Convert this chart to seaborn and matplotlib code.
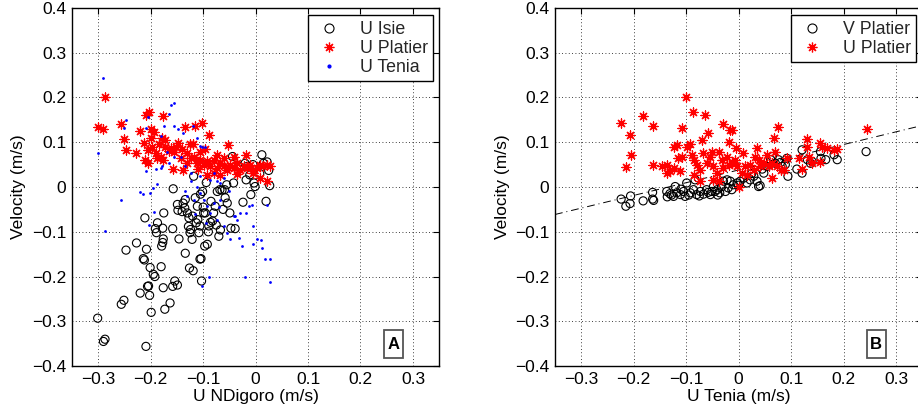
import numpy as np
import matplotlib
matplotlib.use("Agg")
import matplotlib.pyplot as plt
import seaborn as sns
from matplotlib.lines import Line2D
from matplotlib.patches import Rectangle

# ---------------- data ----------------
# Panel A: x = U NDigoro
isie_pts = [
    (-0.301, -0.293), (-0.290, -0.345), (-0.287, -0.340), (-0.209, -0.356),
    (-0.256, -0.262), (-0.251, -0.253), (-0.247, -0.141), (-0.227, -0.125),
    (-0.220, -0.237), (-0.214, -0.160), (-0.212, -0.163), (-0.208, -0.139),
    (-0.211, -0.069), (-0.204, -0.221), (-0.202, -0.242), (-0.206, -0.222),
    (-0.199, -0.280), (-0.201, -0.180), (-0.195, -0.195), (-0.192, -0.200),
    (-0.191, -0.093), (-0.187, -0.080), (-0.189, -0.102), (-0.179, -0.132),
    (-0.177, -0.124), (-0.176, -0.116), (-0.180, -0.178), (-0.176, -0.225),
    (-0.173, -0.273), (-0.177, -0.092), (-0.175, -0.058), (-0.163, -0.259),
    (-0.158, -0.222), (-0.149, -0.219), (-0.154, -0.210), (-0.158, -0.093),
    (-0.157, -0.004), (-0.149, -0.039), (-0.148, -0.052), (-0.146, -0.116),
    (-0.138, -0.036), (-0.135, -0.047), (-0.134, -0.028), (-0.134, -0.148),
    (-0.130, -0.058), (-0.127, -0.069), (-0.124, -0.095), (-0.121, -0.117),
    (-0.125, -0.102), (-0.126, -0.181), (-0.119, -0.187), (-0.118, 0.024),
    (-0.115, -0.024), (-0.111, -0.043), (-0.110, -0.073), (-0.106, -0.087),
    (-0.108, -0.102), (-0.106, -0.161), (-0.104, -0.160), (-0.103, -0.210),
    (-0.099, -0.058), (-0.096, -0.058), (-0.097, -0.132), (-0.092, -0.128),
    (-0.094, 0.010), (-0.105, -0.016), (-0.101, -0.010), (-0.089, -0.087),
    (-0.086, -0.079), (-0.082, -0.076), (-0.085, -0.032), (-0.080, -0.058),
    (-0.077, -0.043), (-0.070, -0.110), (-0.067, -0.096), (-0.073, -0.010),
    (-0.068, -0.006), (-0.064, -0.007), (-0.059, -0.006), (-0.058, -0.024),
    (-0.054, -0.036), (-0.049, -0.058), (-0.047, -0.092), (-0.039, -0.093),
    (-0.042, 0.009), (-0.044, 0.068), (-0.024, -0.034), (-0.020, 0.053),
    (-0.016, 0.046), (-0.009, -0.017), (-0.003, 0.009), (-0.001, 0.001),
    (0.012, 0.072), (0.015, 0.053), (0.020, -0.032), (0.027, 0.003),
    (0.025, 0.037), (0.022, 0.056), (-0.011, 0.027), (-0.018, 0.016),
    (-0.120, -0.065), (-0.113, -0.080), (-0.090, -0.100), (-0.140, -0.055),
    (-0.062, -0.050), (-0.075, -0.085), (-0.100, -0.045), (-0.128, -0.088),
    (-0.005, 0.050), (0.008, 0.030), (-0.030, 0.045), (-0.055, 0.005),
]

uplatier_a_pts = [
    (-0.301, 0.134), (-0.291, 0.129), (-0.287, 0.200), (-0.256, 0.141),
    (-0.251, 0.107), (-0.247, 0.083), (-0.228, 0.076), (-0.220, 0.126),
    (-0.209, 0.161), (-0.204, 0.167), (-0.199, 0.130), (-0.194, 0.122),
    (-0.213, 0.098), (-0.206, 0.083), (-0.211, 0.061), (-0.206, 0.053),
    (-0.197, 0.090), (-0.190, 0.076), (-0.187, 0.064), (-0.181, 0.068),
    (-0.176, 0.061), (-0.176, 0.159), (-0.173, 0.105), (-0.173, 0.090),
    (-0.178, 0.109), (-0.158, 0.041), (-0.162, 0.087), (-0.156, 0.079),
    (-0.151, 0.090), (-0.148, 0.098), (-0.134, 0.133), (-0.138, 0.039),
    (-0.115, 0.136), (-0.102, 0.144), (-0.119, 0.096), (-0.096, 0.085),
    (-0.089, 0.116), (-0.052, 0.093), (-0.130, 0.076), (-0.124, 0.064),
    (-0.118, 0.068), (-0.111, 0.053), (-0.105, 0.061), (-0.099, 0.050),
    (-0.092, 0.057), (-0.086, 0.046), (-0.080, 0.061), (-0.073, 0.042),
    (-0.067, 0.053), (-0.061, 0.046), (-0.054, 0.039), (-0.048, 0.050),
    (-0.042, 0.042), (-0.035, 0.053), (-0.029, 0.039), (-0.023, 0.046),
    (-0.016, 0.042), (-0.010, 0.050), (-0.004, 0.039), (0.003, 0.042),
    (0.009, 0.050), (0.015, 0.046), (0.022, 0.050), (0.027, 0.046),
    (-0.092, 0.027), (-0.080, 0.031), (-0.067, 0.027), (-0.105, 0.079),
    (-0.073, 0.072), (-0.042, 0.068), (-0.130, 0.053), (-0.143, 0.064),
    (-0.018, 0.071), (0.022, 0.013), (0.009, 0.020), (-0.004, 0.031),
    (-0.060, 0.065), (-0.035, 0.030), (-0.110, 0.040), (-0.165, 0.080),
    (-0.200, 0.110), (-0.185, 0.095), (-0.140, 0.085), (-0.125, 0.095),
]

tenia_a_pts = [
    (-0.291, 0.244), (-0.301, 0.076), (-0.287, -0.099), (-0.256, -0.028),
    (-0.247, 0.150), (-0.251, 0.132), (-0.220, -0.012), (-0.214, -0.016),
    (-0.209, 0.131), (-0.206, 0.157), (-0.209, 0.036), (-0.201, -0.013),
    (-0.196, -0.003), (-0.194, -0.056), (-0.203, -0.085), (-0.187, 0.007),
    (-0.189, 0.041), (-0.181, 0.042), (-0.180, 0.113), (-0.175, 0.136),
    (-0.178, 0.046), (-0.165, 0.164), (-0.156, 0.188), (-0.162, 0.184),
    (-0.156, 0.136), (-0.148, 0.129), (-0.138, 0.121), (-0.119, 0.136),
    (-0.111, 0.109), (-0.106, 0.092), (-0.102, 0.089), (-0.097, 0.090),
    (-0.134, -0.010), (-0.130, -0.021), (-0.124, 0.013), (-0.118, -0.028),
    (-0.111, 0.001), (-0.105, -0.013), (-0.099, -0.028), (-0.092, -0.043),
    (-0.086, -0.058), (-0.080, -0.036), (-0.073, -0.073), (-0.067, -0.028),
    (-0.061, -0.087), (-0.054, -0.102), (-0.048, -0.117), (-0.042, -0.065),
    (-0.035, -0.073), (-0.032, -0.113), (-0.026, -0.132), (-0.018, -0.058),
    (-0.013, -0.043), (-0.007, -0.041), (-0.004, -0.087), (0.003, -0.117),
    (0.010, -0.119), (0.012, -0.136), (-0.004, -0.128), (0.018, -0.160),
    (0.027, -0.160), (0.027, -0.212), (0.022, -0.041), (-0.020, -0.201),
    (-0.089, -0.202), (-0.102, -0.221), (-0.039, -0.065), (-0.029, -0.058),
    (-0.073, 0.013), (-0.067, 0.009), (-0.080, 0.031), (-0.086, 0.016),
    (-0.105, 0.024), (-0.124, 0.031), (-0.134, 0.046), (-0.143, 0.068),
    (-0.156, 0.068), (-0.165, 0.053), (-0.168, 0.079), (-0.060, 0.020),
    (-0.050, -0.010), (-0.115, -0.060), (-0.095, -0.080), (-0.070, -0.045),
]

# Panel B: x = U Tenia
vplatier_pts = [
    (-0.224, -0.027), (-0.215, -0.043), (-0.206, -0.020), (-0.207, -0.037),
    (-0.182, -0.031), (-0.164, -0.027), (-0.164, -0.012), (-0.162, -0.030),
    (-0.137, -0.010), (-0.136, -0.022), (-0.131, -0.015), (-0.124, -0.021),
    (-0.121, 0.001), (-0.118, -0.013), (-0.111, -0.017), (-0.105, -0.010),
    (-0.102, -0.021), (-0.099, 0.009), (-0.092, -0.013), (-0.086, -0.006),
    (-0.083, 0.016), (-0.080, -0.017), (-0.073, -0.010), (-0.067, -0.016),
    (-0.061, -0.006), (-0.054, -0.017), (-0.051, -0.010), (-0.048, 0.001),
    (-0.045, -0.010), (-0.041, -0.006), (-0.036, -0.013), (-0.032, 0.001),
    (-0.029, 0.013), (-0.025, -0.010), (-0.022, 0.016), (-0.016, 0.013),
    (-0.013, -0.006), (-0.010, 0.005), (-0.003, 0.009), (0.003, 0.013),
    (0.010, 0.020), (0.016, 0.009), (0.022, 0.016), (0.029, 0.024),
    (0.035, 0.013), (0.038, 0.001), (0.041, 0.003), (0.048, 0.031),
    (0.054, 0.046), (0.061, 0.061), (0.064, 0.068), (0.070, 0.053),
    (0.076, 0.061), (0.083, 0.046), (0.089, 0.050), (0.092, 0.064),
    (0.094, 0.024), (0.111, 0.040), (0.121, 0.031), (0.121, 0.083),
    (0.131, 0.061), (0.137, 0.053), (0.140, 0.057), (0.156, 0.079),
    (0.157, 0.064), (0.166, 0.061), (0.182, 0.072), (0.188, 0.061),
    (0.243, 0.079), (-0.110, -0.005), (-0.095, -0.018), (-0.075, -0.020),
    (-0.058, -0.012), (-0.040, -0.018), (-0.020, -0.002), (0.000, 0.004),
    (0.025, 0.030), (0.045, 0.040), (0.080, 0.055), (-0.128, -0.018),
]

uplatier_b_pts = [
    (-0.224, 0.144), (-0.215, 0.044), (-0.207, 0.116), (-0.206, 0.071),
    (-0.182, 0.158), (-0.164, 0.137), (-0.164, 0.049), (-0.101, 0.200),
    (-0.087, 0.167), (-0.064, 0.161), (-0.107, 0.132), (-0.059, 0.121),
    (-0.070, 0.105), (-0.030, 0.141), (-0.016, 0.127), (-0.013, 0.127),
    (-0.018, 0.101), (-0.005, 0.087), (0.008, 0.077), (0.076, 0.135),
    (0.068, 0.109), (0.244, 0.129), (0.131, 0.107), (0.156, 0.098),
    (0.188, 0.084), (0.064, 0.020), (0.000, 0.000), (0.121, 0.040),
    (-0.137, 0.050), (-0.131, 0.035), (-0.124, 0.042), (-0.118, 0.094),
    (-0.115, 0.064), (-0.108, 0.068), (-0.099, 0.090), (-0.092, 0.096),
    (-0.089, 0.072), (-0.086, 0.061), (-0.080, 0.050), (-0.073, 0.039),
    (-0.067, 0.076), (-0.061, 0.053), (-0.054, 0.068), (-0.051, 0.079),
    (-0.048, 0.046), (-0.041, 0.031), (-0.038, 0.079), (-0.032, 0.061),
    (-0.029, 0.042), (-0.022, 0.068), (-0.019, 0.050), (-0.013, 0.053),
    (-0.006, 0.061), (-0.003, 0.046), (0.006, 0.031), (0.013, 0.046),
    (0.016, 0.027), (0.022, 0.050), (0.029, 0.039), (0.032, 0.068),
    (0.035, 0.087), (0.038, 0.061), (0.041, 0.046), (0.048, 0.053),
    (0.054, 0.072), (0.057, 0.046), (0.064, 0.053), (0.070, 0.079),
    (0.073, 0.046), (0.080, 0.039), (0.086, 0.039), (0.092, 0.064),
    (0.115, 0.064), (0.131, 0.090), (0.134, 0.068), (0.159, 0.090),
    (0.169, 0.087), (0.182, 0.083), (0.140, 0.053), (0.156, 0.055),
    (-0.137, 0.031), (-0.124, 0.090), (-0.146, 0.046), (-0.111, 0.035),
    (-0.086, 0.027), (-0.048, 0.016), (-0.038, 0.013), (-0.073, 0.013),
]

# dash-dot fit line in panel B
fit_slope = 0.284
fit_intercept = 0.038

ticks = [-0.3, -0.2, -0.1, 0, 0.1, 0.2, 0.3]
yticks = [-0.4, -0.3, -0.2, -0.1, 0, 0.1, 0.2, 0.3, 0.4]
tick_labels_x = ["\u22120.3", "\u22120.2", "\u22120.1", "0", "0.1", "0.2", "0.3"]
tick_labels_y = ["\u22120.4", "\u22120.3", "\u22120.2", "\u22120.1", "0", "0.1", "0.2", "0.3", "0.4"]

# ---------------- drawing ----------------
sns.set_theme(style="white")
plt.rcParams["font.family"] = ["Liberation Sans", "DejaVu Sans"]
plt.rcParams["axes.unicode_minus"] = True

fig = plt.figure(figsize=(9.18, 4.16), dpi=100)
axA = fig.add_axes([0.0784, 0.120, 0.400, 0.861])
axB = fig.add_axes([0.6046, 0.120, 0.400, 0.861])

asterisk = (8, 2, 0)


def arr(pts):
    a = np.array(pts)
    return a[:, 0], a[:, 1]


def circles(ax, pts, label):
    x, y = arr(pts)
    sns.scatterplot(x=x, y=y, ax=ax, marker="o", s=34, facecolor="none",
                    edgecolor="black", linewidth=0.8, label=label, legend=False, zorder=3)


def stars(ax, pts, label):
    x, y = arr(pts)
    sns.scatterplot(x=x, y=y, ax=ax, marker=asterisk, s=42, color="red",
                    edgecolor="red", linewidth=0.9, label=label, legend=False, zorder=4)


def dots(ax, pts, label):
    x, y = arr(pts)
    sns.scatterplot(x=x, y=y, ax=ax, marker="o", s=4, color="blue",
                    edgecolor="blue", linewidth=0, label=label, legend=False, zorder=5)


circles(axA, isie_pts, "U Isie")
stars(axA, uplatier_a_pts, "U Platier")
dots(axA, tenia_a_pts, "U Tenia")

circles(axB, vplatier_pts, "V Platier")
stars(axB, uplatier_b_pts, "U Platier")
xl = np.array([-0.35, 0.35])
axB.plot(xl, fit_slope * xl + fit_intercept, color="black", lw=0.7,
         linestyle=(0, (8, 4, 1, 4)), zorder=2)

for ax, xlabel, letter in [(axA, "U NDigoro (m/s)", "A"), (axB, "U Tenia (m/s)", "B")]:
    ax.set_xlim(-0.35, 0.35)
    ax.set_ylim(-0.4, 0.4)
    ax.set_xticks(ticks)
    ax.set_xticklabels(tick_labels_x)
    ax.set_yticks(yticks)
    ax.set_yticklabels(tick_labels_y)
    ax.grid(True, color="black", linestyle=(0, (1, 3)), linewidth=0.6)
    ax.set_axisbelow(True)
    ax.tick_params(direction="in", top=True, right=True, length=4, width=0.8,
                   labelsize=12.5, colors="black", pad=4)
    for sp in ax.spines.values():
        sp.set_color("black")
        sp.set_linewidth(1.0)
        sp.set_visible(True)
    ax.set_xlabel(xlabel, fontsize=12.5, color="black", labelpad=2)
    ax.set_ylabel("Velocity (m/s)", fontsize=12.5, color="black", labelpad=4)
    ax.add_patch(Rectangle((0.849, 0.022), 0.052, 0.078, transform=ax.transAxes,
                           facecolor="white", edgecolor="#555555", lw=1.3, zorder=6))
    ax.text(0.875, 0.060, letter, transform=ax.transAxes, fontsize=12,
            fontweight="bold", ha="center", va="center", color="black", zorder=7)


def legend_handles(specs):
    hs = []
    for kind, label in specs:
        if kind == "circle":
            hs.append(Line2D([], [], marker="o", linestyle="none", markersize=6.5,
                             markerfacecolor="none", markeredgecolor="black",
                             markeredgewidth=0.8, label=label))
        elif kind == "star":
            hs.append(Line2D([], [], marker=asterisk, linestyle="none", markersize=7,
                             color="red", markeredgewidth=0.9, label=label))
        else:
            hs.append(Line2D([], [], marker="o", linestyle="none", markersize=2,
                             color="blue", label=label))
    return hs


for ax, specs in [(axA, [("circle", "U Isie"), ("star", "U Platier"), ("dot", "U Tenia")]),
                  (axB, [("circle", "V Platier"), ("star", "U Platier")])]:
    leg = ax.legend(handles=legend_handles(specs), loc="upper right",
                    bbox_to_anchor=(0.984, 0.979), fontsize=12.8, frameon=True,
                    fancybox=False, edgecolor="black", framealpha=1,
                    borderpad=0.3, labelspacing=0.12, handlelength=1.7,
                    handletextpad=0.9, borderaxespad=0)
    leg.get_frame().set_linewidth(1.0)

fig.savefig("out.png", dpi=100)
